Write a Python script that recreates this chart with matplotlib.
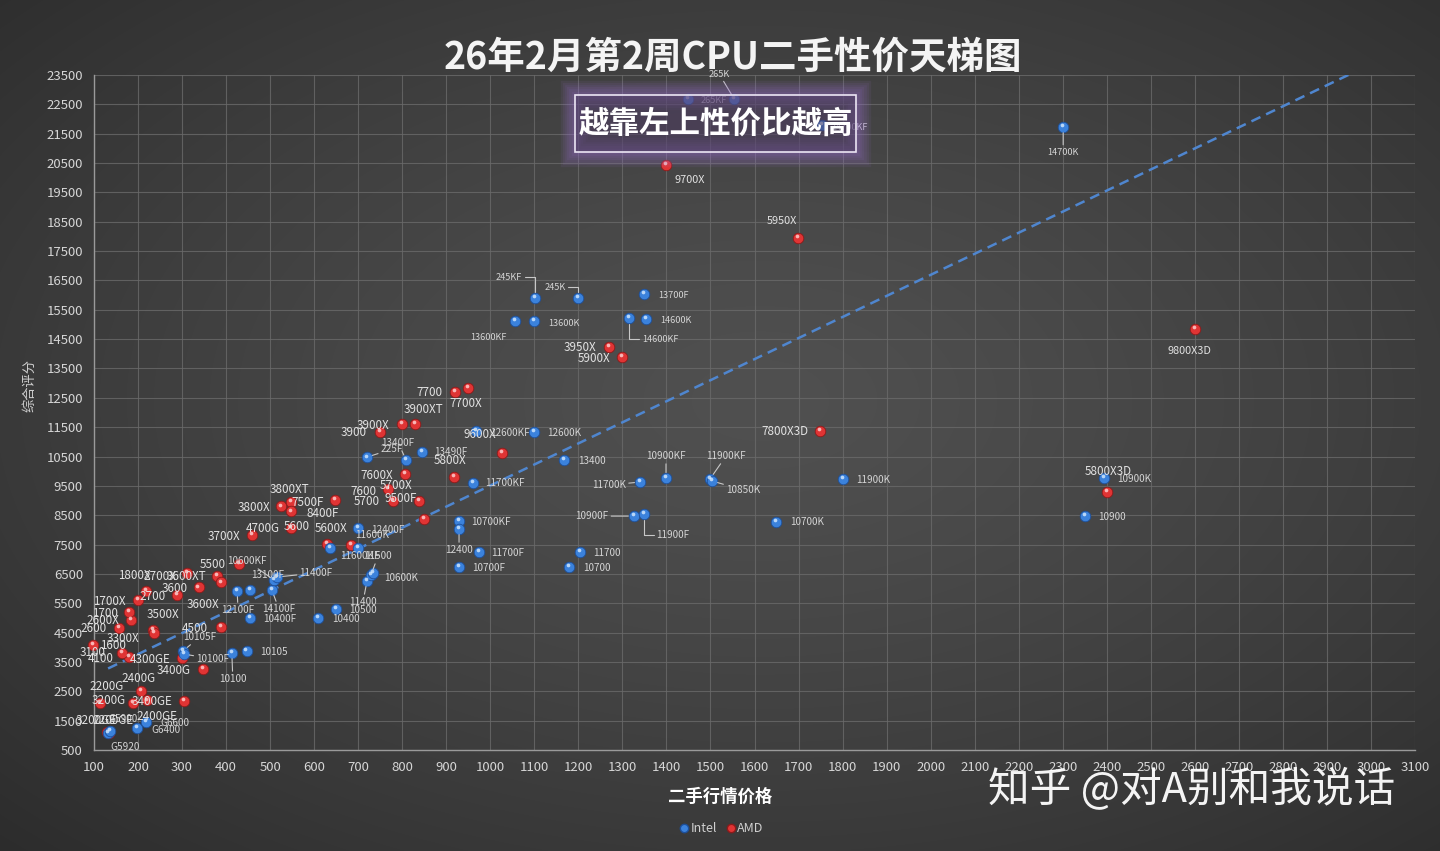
import numpy as np
import matplotlib
matplotlib.use("Agg")
import matplotlib.pyplot as plt
from matplotlib.patches import Rectangle
from matplotlib.lines import Line2D
import matplotlib.transforms as mtransforms

# ---------------- data ----------------
title = "26年2月第2周CPU二手性价天梯图"
x_label = "二手行情价格"
y_label = "综合评分"
note_text = "越靠左上性价比越高"
watermark = "知乎 @对A别和我说话"
legend_labels = ["Intel", "AMD"]

x_ticks = list(range(100, 3101, 100))
y_ticks = list(range(500, 23501, 1000))

intel_names = ["G5920", "G5900", "G6400", "G6600", "10105F", "10100F", "10100", "10105",
               "12100F", "13100F", "14100F", "10600KF", "11400F", "10400F", "10400", "10500",
               "11600KF", "11600K", "12400F", "11400", "11500", "10600K", "225F", "13400F",
               "13490F", "10700KF", "12400", "11700F", "10700F", "11700KF", "12600KF", "12600K",
               "13400", "10700", "11700", "10900F", "11900F", "11700K", "10900KF", "11900KF",
               "10850K", "10700K", "11900K", "10900", "10900K", "14700K", "14700KF", "265KF",
               "265K", "245KF", "245K", "13700F", "13600KF", "13600K", "14600KF", "14600K"]
intel_price = [132, 136, 198, 218, 302, 304, 413, 447,
               425, 454, 504, 509, 516, 454, 609, 650,
               636, 700, 700, 720, 729, 734, 720, 809,
               845, 929, 929, 974, 929, 961, 968, 1099,
               1167, 1179, 1204, 1326, 1349, 1340, 1399, 1499,
               1504, 1649, 1801, 2351, 2394, 2301, 1753, 1449,
               1554, 1102, 1199, 1349, 1056, 1099, 1315, 1354]
intel_score = [1080, 1150, 1250, 1455, 3875, 3770, 3805, 3875,
               5915, 5950, 5950, 6290, 6395, 5000, 5000, 5305,
               7380, 7380, 8065, 6260, 6460, 6530, 10480, 10380,
               10655, 8300, 8030, 7245, 6735, 9595, 11370, 11335,
               10380, 6735, 7245, 8470, 8540, 9630, 9765, 9735,
               9665, 8270, 9735, 8470, 9765, 21725, 21795, 22680,
               22680, 15900, 15900, 16035, 15115, 15115, 15220, 15185]

amd_names = ["3100", "2200G", "3200G", "2400G", "2400GE", "3400GE", "3400G", "4300GE",
             "4100", "1600", "3300X", "3500X", "4500", "2600", "2600X", "1700",
             "1700X", "2700", "3600", "1800X", "2700X", "3600XT", "3600X", "5500",
             "3700X", "3800X", "3800XT", "7500F", "4700G", "5600", "5600X", "8400F",
             "3900", "3900X", "3900XT", "7600X", "7600", "5700", "9500F", "5700X",
             "5800X", "9600X", "7700", "7700X", "3950X", "5900X", "9700X", "5950X",
             "7800X3D", "5800X3D", "9800X3D", "3200GE", "2200GE"]
amd_price = [98, 114, 189, 207, 220, 304, 348, 300,
             180, 164, 234, 236, 388, 157, 184, 180,
             200, 289, 338, 218, 311, 379, 388, 429,
             459, 525, 547, 547, 547, 629, 684, 647,
             750, 800, 829, 806, 768, 779, 838, 849,
             918, 1027, 920, 949, 1270, 1299, 1399, 1699,
             1749, 2401, 2601, 130, 134]
amd_score = [4080, 2100, 2100, 2510, 2200, 2170, 3260, 3630,
             3670, 3805, 4590, 4490, 4690, 4660, 4930, 5200,
             5610, 5780, 6050, 5920, 6530, 6430, 6220, 6840,
             7825, 8810, 8950, 8640, 8065, 7520, 7485, 9020,
             11335, 11605, 11605, 9905, 9390, 8985, 8985, 8370,
             9800, 10620, 12700, 12835, 14230, 13890, 20430, 17945,
             11370, 9290, 14845, 1100, 1090]

# linear trendline: score = slope * price + intercept
trend_slope = 7.18
trend_intercept = 2330

# ---------------- label layout (pixel offsets, x right / y up) ----------------
intel_offsets = {
    "G5920": (17, -14), "G5900": (13, 12), "G6400": (29, -2), "G6600": (29, -1),
    "10105F": (17, 14), "10100F": (29, -5), "10100": (1, -26), "10105": (27, -1),
    "12100F": (1, -19), "13100F": (18, 15), "14100F": (7, -19), "10600KF": (-27, 19),
    "11400F": (39, 4), "10400F": (30, -1), "10400": (28, -1), "10500": (27, -1),
    "11600KF": (30, -8), "11600K": (14, 13), "12400F": (30, -2), "11400": (-4, -21),
    "11500": (7, 19), "10600K": (28, -5), "225F": (25, 8), "13400F": (-8, 17),
    "13490F": (29, 0), "10700KF": (32, -1), "12400": (0, -21), "11700F": (29, -1),
    "10700F": (30, -1), "11700KF": (32, 0), "12600KF": (34, -2), "12600K": (30, -1),
    "13400": (28, -1), "10700": (28, -1), "11700": (27, -1), "10900F": (-42, 0),
    "11900F": (29, -21), "11700K": (-31, -3), "10900KF": (0, 22), "11900KF": (16, 23),
    "10850K": (31, -9), "10700K": (31, 0), "11900K": (30, -1), "10900": (27, -1),
    "10900K": (30, -1), "14700K": (0, -25), "14700KF": (28, -2), "265KF": (26, -1),
    "265K": (-15, 25), "245KF": (-26, 21), "245K": (-23, 11), "13700F": (30, -1),
    "13600KF": (-27, -16), "13600K": (30, -2), "14600KF": (31, -21), "14600K": (30, -1),
}
amd_offsets = {
    "3100": (-1, -8), "2200G": (6, 17), "3200G": (-25, 3), "2400G": (-3, 13),
    "2400GE": (10, -16), "3400GE": (-32, -1), "3400G": (-30, -1), "4300GE": (-32, -1),
    "4100": (-29, -2), "1600": (-9, 8), "3300X": (-30, -9), "3500X": (9, 18),
    "4500": (-26, -1), "2600": (-26, -1), "2600X": (-28, -1), "1700": (-24, -1),
    "1700X": (-29, -1), "2700": (-25, -1), "3600": (-24, -1), "1800X": (-12, 15),
    "2700X": (-27, -3), "3600XT": (-30, -1), "3600X": (-18, -22), "5500": (-26, -1),
    "3700X": (-28, -1), "3800X": (-27, -1), "3800XT": (-1, 13), "7500F": (17, 9),
    "4700G": (-28, -1), "5600": (-30, 17), "5600X": (-20, 17), "8400F": (-12, -14),
    "3900": (-27, 0), "3900X": (-29, -1), "3900XT": (8, 15), "7600X": (-28, -2),
    "7600": (-25, -2), "5700": (-26, -1), "9500F": (-18, 2), "5700X": (-28, 34),
    "5800X": (-4, 17), "9600X": (-22, 18), "7700": (-26, -1), "7700X": (-2, -16),
    "3950X": (-29, 0), "5900X": (-28, -1), "9700X": (24, -15), "5950X": (-16, 17),
    "7800X3D": (-35, -1), "5800X3D": (1, 21), "9800X3D": (-6, -22),
    "3200GE": (-11, 12), "2200GE": (4, 12),
}
leaders = {"10105F", "10100F", "10100", "12100F", "14100F", "10600KF", "11400F", "11400",
           "11500", "225F", "13400F", "12400", "10900F", "11700K", "10900KF", "11900KF",
           "10850K", "14700K", "265K"}
elbows = {"11900F", "245KF", "245K", "14600KF"}
small_labels = {"265K", "265KF", "14700KF", "245KF", "245K", "13700F", "13600KF", "13600K",
                "14600KF", "14600K", "14700K"}
mid_labels = {"9700X", "5950X", "9800X3D"}

# ---------------- figure ----------------
plt.rcParams["font.family"] = ["Noto Sans CJK SC", "DejaVu Sans"]
W, H = 1440, 851
fig = plt.figure(figsize=(W / 100, H / 100), dpi=100)

# background radial gradient
bg = fig.add_axes([0, 0, 1, 1], zorder=-10)
yy, xx = np.mgrid[0:H, 0:W]
r = np.sqrt(((xx - 760) / W) ** 2 + ((yy - 400) / H) ** 2)
v = 80 - 36 * np.clip(r / 0.75, 0, 1) ** 1.3
img = np.dstack([v, v, v]) / 255.0
bg.imshow(img, aspect="auto", extent=[0, 1, 0, 1])
bg.axis("off")

ax = fig.add_axes([94 / W, 1 - 750 / H, (1415 - 94) / W, (750 - 75) / H])
ax.set_facecolor("none")
ax.set_xlim(100, 3100)
ax.set_ylim(500, 23500)
ax.set_xticks(x_ticks)
ax.set_yticks(y_ticks)
ax.tick_params(axis="both", colors="#d6d6d6", labelsize=9.5, length=0, pad=8)
ax.grid(True, color="#6a6a6a", lw=0.8, alpha=0.8)
ax.set_axisbelow(True)
for s in ["top", "right"]:
    ax.spines[s].set_visible(False)
for s in ["left", "bottom"]:
    ax.spines[s].set_color("#9a9a9a")
    ax.spines[s].set_linewidth(1.0)

blue, blue_edge = "#3b82dc", "#1d4f9a"
red, red_edge = "#e03434", "#8c1a1a"

hl = mtransforms.offset_copy(ax.transData, fig=fig, x=-1.3, y=1.6, units="dots")

ax.scatter(amd_price, amd_score, s=58, color=red, edgecolor=red_edge, lw=0.6, zorder=3, clip_on=False)
ax.scatter(amd_price, amd_score, s=7, color="#ffd6d6", alpha=0.8, lw=0, zorder=3.1, transform=hl, clip_on=False)
ax.scatter(intel_price, intel_score, s=58, color=blue, edgecolor=blue_edge, lw=0.6, zorder=4, clip_on=False)
ax.scatter(intel_price, intel_score, s=7, color="#d8ecff", alpha=0.8, lw=0, zorder=4.1, transform=hl, clip_on=False)

tx = np.array([min(intel_price), x_ticks[-1]])
ax.plot(tx, trend_slope * tx + trend_intercept, ls=(0, (4, 2.5)), color="#4f86cf", lw=1.8, zorder=2.5)


def place(names, xs, ys, offsets, color, size):
    for n, x, y in zip(names, xs, ys):
        dx, dy = offsets.get(n, (28, 0))
        kw = {}
        if n in leaders or n in elbows:
            cs = "angle,angleA=0,angleB=90,rad=0" if n in elbows else "arc3"
            kw["arrowprops"] = dict(arrowstyle="-", color="#c8c8c8", lw=0.8,
                                    shrinkA=0, shrinkB=4, connectionstyle=cs)
        fs = 6.6 if n in small_labels else (7.8 if n in mid_labels else size)
        ax.annotate(n, (x, y), xytext=(dx, dy), textcoords="offset pixels",
                    ha="center", va="center", fontsize=fs, color=color,
                    zorder=6, annotation_clip=False, **kw)


place(intel_names, intel_price, intel_score, intel_offsets, "#d4d4d4", 7.2)
place(amd_names, amd_price, amd_score, amd_offsets, "#e2e2e2", 8.4)

fig.text(720 / W, 1 - 797 / H, x_label, ha="center", va="center", fontsize=12.5,
         fontweight="bold", color="white")
fig.text(30 / W, 1 - 385 / H, y_label, ha="center", va="center", fontsize=9.5,
         color="#cfcfcf", rotation=90)

fig.text(733 / W, 1 - 57 / H, title, ha="center", va="center", fontsize=27,
         fontweight="bold", color="#f4f4f4")

# note box with purple glow
x0, x1 = 575 / W, 856 / W
y0, y1 = 1 - 152 / H, 1 - 95 / H
for i in range(7):
    fig.patches.append(Rectangle((x0, y0), x1 - x0, y1 - y0, transform=fig.transFigure,
                                 facecolor="none", edgecolor="#9a70d0", lw=2 + 3.2 * i,
                                 alpha=0.09, zorder=7))
fig.patches.append(Rectangle((x0, y0), x1 - x0, y1 - y0, transform=fig.transFigure,
                             facecolor="#4e3d63", edgecolor="none", alpha=0.55, zorder=7))
fig.patches.append(Rectangle((x0, y0), x1 - x0, y1 - y0, transform=fig.transFigure,
                             facecolor="none", edgecolor="#ece6f4", lw=1.2, zorder=8))
fig.text((x0 + x1) / 2, (y0 + y1) / 2, note_text, ha="center", va="center", fontsize=22,
         fontweight="bold", color="white", zorder=9)

fig.text(1192 / W, 1 - 790 / H, watermark, ha="center", va="center", fontsize=30,
         color="white", alpha=0.95)

handles = [Line2D([], [], marker="o", ls="", color=blue, markeredgecolor=blue_edge, markersize=6, label=legend_labels[0]),
           Line2D([], [], marker="o", ls="", color=red, markeredgecolor=red_edge, markersize=6, label=legend_labels[1])]
fig.legend(handles=handles, loc="center", bbox_to_anchor=(0.5, 1 - 829 / H), ncol=2,
           frameon=False, fontsize=9, labelcolor="#d0d0d0", handletextpad=-0.1,
           columnspacing=0.5, handlelength=1.2)

fig.savefig("out.png", dpi=100)
